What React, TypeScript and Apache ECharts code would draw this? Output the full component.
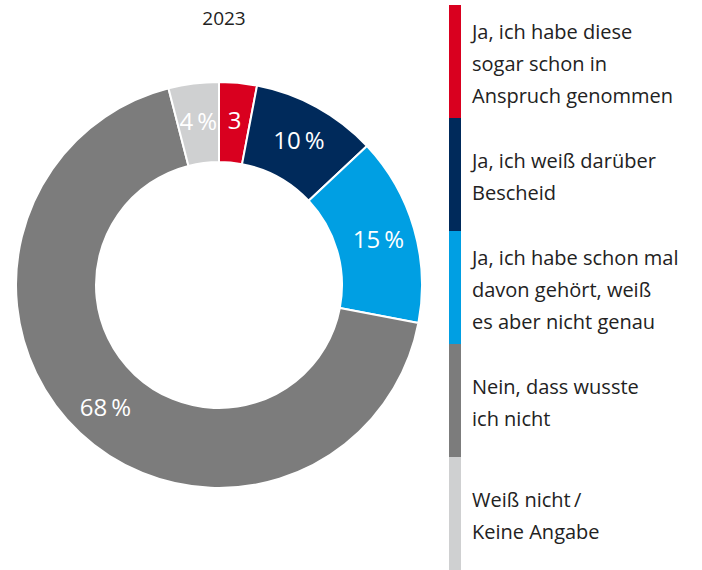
import React, { useEffect, useRef } from "react";
import * as echarts from "echarts";

const title = "2023";
const categories = [
  "Ja, ich habe diese\nsogar schon in\nAnspruch genommen",
  "Ja, ich weiß darüber\nBescheid",
  "Ja, ich habe schon mal\ndavon gehört, weiß\nes aber nicht genau",
  "Nein, dass wusste\nich nicht",
  "Weiß nicht\u2009/\nKeine Angabe",
];
const values = [3, 10, 15, 68, 4];
const sliceLabels = ["3", "10\u2009%", "15\u2009%", "68\u2009%", "4\u2009%"];
const colors = ["#d9001f", "#002a5b", "#009fe3", "#7c7c7c", "#cfd0d1"];

const FONT = "'Open Sans'";

export default function App() {
  const ref = useRef<HTMLDivElement>(null);
  useEffect(() => {
    if (!ref.current) return;
    const chart = echarts.init(ref.current, undefined, { renderer: "svg" });
    const segTop = 5;
    const segH = 113;
    const legendGraphics: any[] = [];
    categories.forEach((c, i) => {
      legendGraphics.push({
        type: "rect",
        shape: { x: 449, y: segTop + i * segH, width: 12, height: segH },
        style: { fill: colors[i] },
      });
      legendGraphics.push({
        type: "text",
        x: 472,
        y: segTop + i * segH + segH / 2 + 1.5,
        style: {
          text: c,
          font: `20px ${FONT}`,
          fill: "#222222",
          lineHeight: 32,
          verticalAlign: "middle",
          align: "left",
        },
      });
    });
    chart.setOption({
      animation: false,
      title: {
        text: title,
        left: 219,
        top: 3,
        textAlign: "center",
        textStyle: { fontFamily: FONT, fontSize: 19, fontWeight: "normal", color: "#222222" },
      },
      series: [
        {
          type: "pie",
          center: [219, 285],
          radius: [123, 203],
          startAngle: 90,
          clockwise: true,
          avoidLabelOverlap: false,
          itemStyle: { borderColor: "#ffffff", borderWidth: 2 },
          label: {
            show: true,
            position: "inside",
            color: "#ffffff",
            fontFamily: FONT,
            fontSize: 24,
            formatter: (p: any) => sliceLabels[p.dataIndex],
          },
          labelLine: { show: false },
          emphasis: { disabled: true },
          data: values.map((v, i) => ({
            value: v,
            name: categories[i],
            itemStyle: { color: colors[i] },
          })),
        },
      ],
      graphic: legendGraphics,
    });
    return () => chart.dispose();
  }, []);
  return (
    <div
      ref={ref}
      style={{ position: "fixed", left: 0, top: 0, width: 702, height: 570, background: "#fff" }}
    />
  );
}
